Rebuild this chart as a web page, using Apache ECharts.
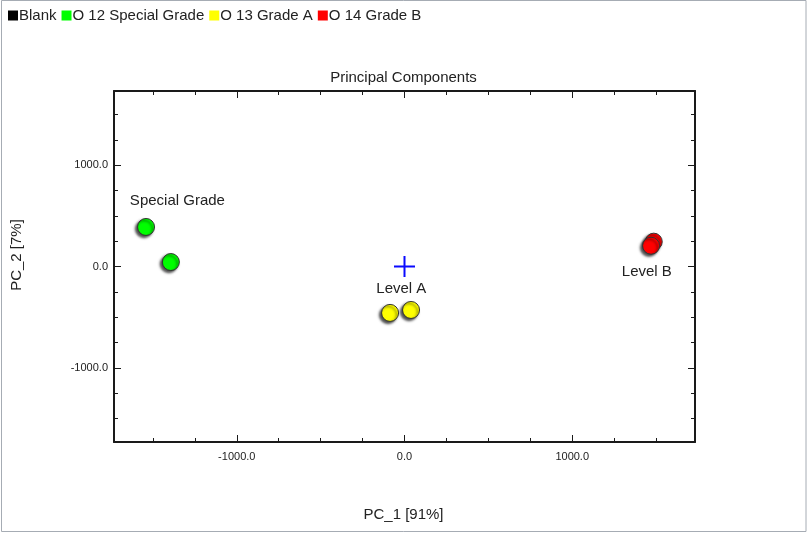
<!DOCTYPE html>
<html>
<head>
<meta charset="utf-8">
<title>Principal Components</title>
<script src="https://cdn.jsdelivr.net/npm/echarts@6/dist/echarts.min.js"></script>
<style>
  html, body { margin: 0; padding: 0; background: #ffffff; }
  #chart { width: 807px; height: 533px; }
</style>
</head>
<body>
<div id="chart"></div>
<script>
// PCA scores (PC_1, PC_2) per sample group
const specialGradeX = [-1541, -1393];
const specialGradeY = [390, 44];
const gradeAX = [-86, 39];
const gradeAY = [-458, -429];
const gradeBX = [1486, 1470];
const gradeBY = [245, 205];

// Origin marker
const originX = [0];
const originY = [0];

// Group annotations
const annotationNames = ['Special Grade', 'Level A', 'Level B'];
const annotationX = [-1354, -19, 1445];
const annotationY = [652, -222, -54];

// Legend entries
const seriesNames = ['Blank', 'O 12 Special Grade', 'O 13 Grade A', 'O 14 Grade B'];

// Axis extent and ticks
const axisMin = -1732;
const axisMax = 1732;
const majorTicks = [-1000, 0, 1000];
const minorTicks = [-1500, -1250, -750, -500, -250, 250, 500, 750, 1250, 1500];

const FONT = '"Liberation Sans", Arial, sans-serif';

function points(xs, ys) {
  return xs.map((x, i) => [x, ys[i]]);
}

function makeAxis(kind, position, ticks, tickLen, withLabels, withLine) {
  return {
    type: 'value',
    position: position,
    min: axisMin,
    max: axisMax,
    gridIndex: 0,
    axisLine: { show: withLine, onZero: false, lineStyle: { color: '#1a1a1a', width: 2 } },
    axisTick: {
      show: true, inside: true, length: tickLen,
      customValues: ticks,
      lineStyle: { color: '#1a1a1a', width: 1 }
    },
    axisLabel: withLabels ? {
      show: true,
      customValues: ticks,
      margin: kind === 'x' ? 9 : 6,
      color: '#222222',
      fontFamily: FONT,
      fontSize: 11,
      formatter: v => Number(v).toFixed(1)
    } : { show: false },
    splitLine: { show: false },
    minorTick: { show: false }
  };
}

const circleStyle = (color) => ({
  color: color,
  opacity: 1,
  borderColor: '#333333',
  borderWidth: 1,
  shadowColor: 'rgba(0,0,0,0.7)',
  shadowBlur: 2.5,
  shadowOffsetX: -2,
  shadowOffsetY: 2
});

const chart = echarts.init(document.getElementById('chart'), null, { renderer: 'canvas' });

chart.setOption({
  animation: false,
  backgroundColor: '#ffffff',
  title: {
    text: 'Principal Components',
    left: 'center',
    top: 65,
    textStyle: { fontFamily: FONT, fontSize: 15, fontWeight: 'normal', color: '#222222' }
  },
  legend: {
    left: 8,
    top: 8,
    padding: 0,
    itemWidth: 10,
    itemHeight: 10,
    itemGap: 5,
    icon: 'rect',
    selectedMode: false,
    data: seriesNames,
    itemStyle: { opacity: 1, borderWidth: 0, shadowBlur: 0, shadowOffsetX: 0, shadowOffsetY: 0 },
    textStyle: { fontFamily: FONT, fontSize: 15, color: '#222222', padding: [0, 0, 0, -4] }
  },
  grid: { left: 114, top: 91, width: 581, height: 351, containLabel: false },
  xAxis: [
    makeAxis('x', 'bottom', majorTicks, 7, true, true),
    makeAxis('x', 'bottom', minorTicks, 4, false, false),
    makeAxis('x', 'top', majorTicks, 7, false, true),
    makeAxis('x', 'top', minorTicks, 4, false, false)
  ],
  yAxis: [
    makeAxis('y', 'left', majorTicks, 7, true, true),
    makeAxis('y', 'left', minorTicks, 4, false, false),
    makeAxis('y', 'right', majorTicks, 7, false, true),
    makeAxis('y', 'right', minorTicks, 4, false, false)
  ],
  graphic: [
    {
      type: 'rect', silent: true, z: 0,
      shape: { x: 1.5, y: 0.5, width: 804.5, height: 531 },
      style: { fill: 'none', stroke: '#a6acb4', lineWidth: 1 }
    },
    {
      type: 'text', left: 'center', top: 507,
      style: { text: 'PC_1 [91%]', font: '15px ' + FONT, fill: '#222222' }
    },
    {
      type: 'text', x: 17, y: 255, rotation: Math.PI / 2,
      style: { text: 'PC_2 [7%]', font: '15px ' + FONT, fill: '#222222', align: 'center', verticalAlign: 'middle' }
    }
  ],
  series: [
    {
      name: 'Blank', type: 'scatter', data: [],
      itemStyle: { color: '#000000', opacity: 1 }
    },
    {
      name: 'O 12 Special Grade', type: 'scatter', symbol: 'circle', symbolSize: 17,
      data: points(specialGradeX, specialGradeY),
      itemStyle: circleStyle('#00ff00')
    },
    {
      name: 'O 13 Grade A', type: 'scatter', symbol: 'circle', symbolSize: 17,
      data: points(gradeAX, gradeAY),
      itemStyle: circleStyle('#ffff00')
    },
    {
      name: 'O 14 Grade B', type: 'scatter', symbol: 'circle', symbolSize: 17,
      data: points(gradeBX, gradeBY),
      itemStyle: circleStyle('#ff0000')
    },
    {
      name: 'origin', type: 'scatter',
      symbol: 'path://M0,9.5H21V11.5H0ZM9.5,0H11.5V21H9.5Z',
      symbolSize: 21,
      data: points(originX, originY),
      itemStyle: { color: '#0a0aff', opacity: 1 },
      z: 3
    },
    {
      name: 'annotations', type: 'scatter',
      symbolSize: 0,
      data: annotationNames.map((n, i) => ({ name: n, value: [annotationX[i], annotationY[i]] })),
      itemStyle: { opacity: 1 },
      label: {
        show: true, position: 'inside',
        formatter: p => p.name,
        fontFamily: FONT, fontSize: 15, color: '#222222'
      },
      z: 4
    }
  ]
});
</script>
</body>
</html>
